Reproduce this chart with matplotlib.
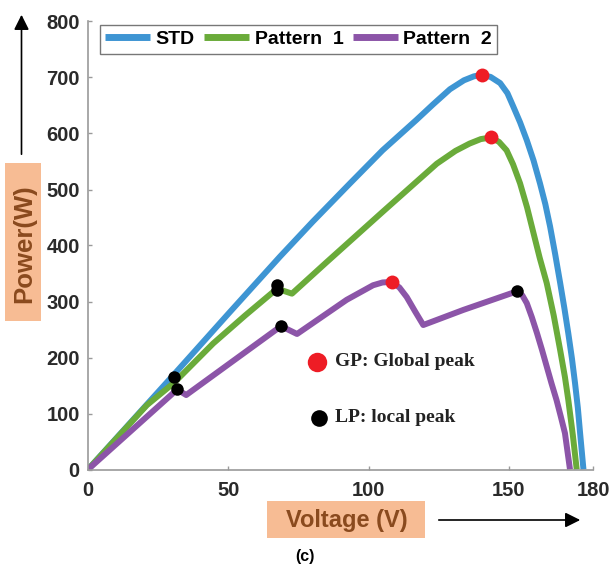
import matplotlib
matplotlib.use("Agg")
import matplotlib.pyplot as plt
from matplotlib.patches import Rectangle, FancyArrowPatch

# ---- data ----
std_v = [0, 30.7, 50, 68.4, 80, 93.4, 105, 117, 123, 129, 134, 137.5, 140.3, 143.5, 146.9, 149.5,
         151.6, 154, 156.4, 158.8, 161.1, 163, 164.7, 166.5, 168.3, 169.8, 171.2, 172.5, 173.6,
         174.6, 175.4, 176.6]
std_p = [0, 170, 278, 380, 442, 511, 570, 624, 652, 679, 695, 702, 705, 701, 690, 672,
         648, 620, 588, 552, 511, 474, 434, 385, 333, 288, 243, 198, 154,
         110, 65, 0]

p1_v = [0, 21, 30.7, 44.6, 56, 67.4, 72.7, 85, 105, 124.3, 131, 136, 140, 143.7, 146.5, 149.2,
        151.5, 154, 156.5, 158.8, 161, 163.5, 166, 168.3, 170, 171.2, 172.8, 174.2]
p1_p = [0, 115, 155, 225, 275, 323, 314, 370, 460, 546, 569, 582, 590, 593, 585, 570,
        545, 511, 468, 422, 378, 333, 275, 213, 165, 124, 62, 0]

p2_v = [0, 31.8, 35, 68.8, 74.5, 92.2, 101.6, 105, 108.3, 111, 113.6, 116.5, 119.5, 133.8,
        152.8, 154.8, 156.4, 158.2, 160, 161.8, 163.5, 165.2, 167, 168.5, 170, 171.8]
p2_p = [0, 143, 133, 256, 242, 303, 329, 334, 335, 325, 308, 283, 258, 285,
        318, 311, 297, 272, 244, 214, 184, 154, 124, 95, 65, 0]

gp_v = [140.3, 143.7, 108.3]
gp_p = [705, 593, 335]
lp_v = [30.7, 31.8, 67.2, 67.4, 68.8, 152.8]
lp_p = [166, 143, 330, 320, 256, 318]

series_names = ["STD", "Pattern  1", "Pattern  2"]
x_ticks = [0, 50, 100, 150, 180]
y_ticks = [0, 100, 200, 300, 400, 500, 600, 700, 800]

colors = ["#3E95D3", "#6AAB3A", "#8C55A8"]

W, H = 611, 566
fig = plt.figure(figsize=(W / 100, H / 100), dpi=100)
ax = fig.add_axes([88 / W, 1 - 469.5 / H, (593 - 88) / W, (469.5 - 21.5) / H])

for v, p, c, n in zip([std_v, p1_v, p2_v], [std_p, p1_p, p2_p], colors, series_names):
    ax.plot(v, p, color=c, lw=4.3, label=n, solid_capstyle="butt", solid_joinstyle="round", zorder=2)

ax.plot(gp_v, gp_p, "o", color="#EE1C25", ms=10, mec="none", zorder=4)
ax.plot(lp_v, lp_p, "o", color="black", ms=9, mec="none", zorder=4)

ax.set_xlim(0, 180)
ax.set_ylim(0, 800)
ax.set_xticks(x_ticks)
ax.set_yticks(y_ticks)
for s in ["top", "right"]:
    ax.spines[s].set_visible(False)
for s in ["left", "bottom"]:
    ax.spines[s].set_color("#9a9a9a")
    ax.spines[s].set_linewidth(1.2)
ax.tick_params(axis="x", pad=8)
ax.tick_params(axis="y", pad=6)
ax.tick_params(direction="in", length=3, color="#9a9a9a", width=1,
               labelsize=14.5, labelcolor="#2a2a2a")
for lab in ax.get_xticklabels() + ax.get_yticklabels():
    lab.set_fontweight("bold")
    lab.set_family("Liberation Sans")

leg = ax.legend(loc="upper left", bbox_to_anchor=((100 - 88) / 505, (469.5 - 25) / 448),
                borderaxespad=0, ncol=3, frameon=True, fancybox=False,
                handlelength=2.3, handletextpad=0.28, columnspacing=0.5,
                borderpad=0.28, prop={"family": "Liberation Sans", "weight": "bold", "size": 14})
leg.get_frame().set_edgecolor("#555555")
leg.get_frame().set_linewidth(1.0)
for lh in leg.get_lines():
    lh.set_linewidth(5)

# annotation legend for peaks (figure pixel positions)
def fx(px):
    return px / W

def fy(py):
    return 1 - py / H

fig.add_artist(plt.Line2D([fx(317)], [fy(362)], marker="o", color="#EE1C25", ms=14, mec="none", ls="none"))
fig.text(fx(335), fy(362), "GP: Global peak", fontsize=14, fontweight="bold", family="Liberation Serif",
         va="center", ha="left", color="#222222")
fig.add_artist(plt.Line2D([fx(319)], [fy(418)], marker="o", color="black", ms=12, mec="none", ls="none"))
fig.text(fx(335), fy(418), "LP: local peak", fontsize=14, fontweight="bold", family="Liberation Serif",
         va="center", ha="left", color="#222222")

# axis labels with shaded boxes
box_col = "#F7BC94"
txt_col = "#8A4A1E"
fig.add_artist(Rectangle((fx(5), fy(321)), (41 - 5) / W, (321 - 163) / H, transform=fig.transFigure,
                         fc=box_col, ec="none"))
fig.text(fx(24), fy(244), "Power(W)", rotation=90, ha="center", va="center",
         fontsize=18.5, fontweight="bold", color=txt_col, family="Liberation Sans")
fig.add_artist(Rectangle((fx(267), fy(538)), (425 - 267) / W, (538 - 501) / H, transform=fig.transFigure,
                         fc=box_col, ec="none"))
fig.text(fx(347), fy(520), "Voltage (V)", ha="center", va="center",
         fontsize=17, fontweight="bold", color=txt_col, family="Liberation Sans")

# arrows
fig.add_artist(FancyArrowPatch((fx(21.5), fy(157)), (fx(21.5), fy(12)),
               transform=fig.transFigure, arrowstyle="-|>,head_length=6,head_width=3",
               color="black", lw=1.2, mutation_scale=1.5))
fig.add_artist(FancyArrowPatch((fx(436), fy(520)), (fx(583), fy(520)),
               transform=fig.transFigure, arrowstyle="-|>,head_length=6,head_width=3",
               color="black", lw=1.2, mutation_scale=1.5))

fig.text(fx(305), fy(556), "(c)", ha="center", va="center", fontsize=11.5,
         fontweight="bold", family="Liberation Sans", color="black")

fig.savefig("out.png", dpi=100)
